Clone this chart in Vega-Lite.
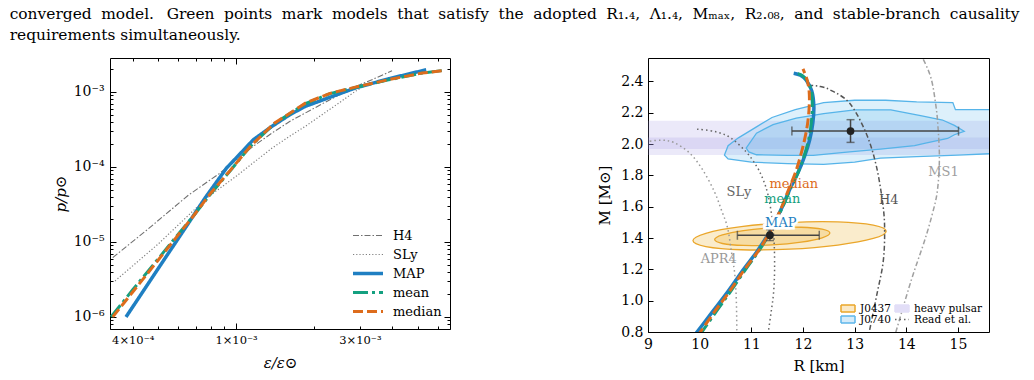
{
  "$schema": "https://vega.github.io/schema/vega-lite/v6.json",
  "background": "white",
  "padding": {"left": 9, "top": 6, "right": 5, "bottom": 2},
  "config": {
    "font": "DejaVu Serif",
    "view": {"stroke": "#000000", "strokeWidth": 1},
    "axis": {"domain": false, "grid": false, "labelFont": "DejaVu Serif", "titleFont": "DejaVu Serif", "labelColor": "#000000", "titleColor": "#000000", "tickColor": "#000000", "tickWidth": 1, "labelFlush": false, "labelOverlap": false, "titleFontWeight": "normal", "titleFontSize": 15, "labelFontSize": 14},
    "legend": {"labelFont": "DejaVu Serif", "labelColor": "#000000"}
  },
  "title": {
    "text": ["converged \u2009\u200amodel. \u2009\u2009\u200aGreen \u2009\u200apoints \u2009\u200amark \u2009\u200amodels \u2009\u200athat \u2009\u200asatisfy \u2009\u200athe \u2009\u200aadopted \u2009\u200aR₁.₄, \u2009\u200aΛ₁.₄, \u2009\u200aMₘₐₓ, \u2009\u200aR₂.₀₈, \u2009\u200aand \u2009\u200astable-branch \u2009\u200acausality", "requirements simultaneously."],
    "anchor": "start", "frame": "bounds", "font": "DejaVu Serif", "fontSize": 15.45, "fontWeight": "normal", "lineHeight": 21, "offset": 14, "dx": -43, "color": "#000000"
  },
  "spacing": 146,
  "resolve": {"scale": {"color": "independent", "strokeDash": "independent", "strokeWidth": "independent", "fill": "independent", "stroke": "independent", "shape": "independent", "x": "independent", "y": "independent"}},
  "hconcat": [
    {
      "width": 340,
      "height": 271,
      "data": {"values": [
        {"model": "H4", "e": 3.35e-4, "p": 6.18e-6},
        {"model": "H4", "e": 4.5e-4, "p": 1.41e-5},
        {"model": "H4", "e": 6.55e-4, "p": 4.2e-5},
        {"model": "H4", "e": 8.68e-4, "p": 8.3e-5},
        {"model": "H4", "e": 1.166e-3, "p": 1.89e-4},
        {"model": "H4", "e": 1.377e-3, "p": 2.84e-4},
        {"model": "H4", "e": 1.614e-3, "p": 4.07e-4},
        {"model": "H4", "e": 1.85e-3, "p": 5.25e-4},
        {"model": "H4", "e": 2.3e-3, "p": 7.9e-4},
        {"model": "H4", "e": 2.8e-3, "p": 1.13e-3},
        {"model": "H4", "e": 3.34e-3, "p": 1.46e-3},
        {"model": "H4", "e": 3.99e-3, "p": 1.92e-3},
        {"model": "SLy", "e": 3.42e-4, "p": 3.02e-6},
        {"model": "SLy", "e": 5.0e-4, "p": 9.3e-6},
        {"model": "SLy", "e": 7.71e-4, "p": 3.86e-5},
        {"model": "SLy", "e": 1.0e-3, "p": 7.5e-5},
        {"model": "SLy", "e": 1.377e-3, "p": 1.79e-4},
        {"model": "SLy", "e": 1.61e-3, "p": 2.57e-4},
        {"model": "SLy", "e": 1.85e-3, "p": 3.49e-4},
        {"model": "SLy", "e": 2.49e-3, "p": 7.13e-4},
        {"model": "SLy", "e": 2.88e-3, "p": 1.02e-3},
        {"model": "SLy", "e": 3.3e-3, "p": 1.35e-3},
        {"model": "MAP", "e": 3.77e-4, "p": 1.0e-6},
        {"model": "MAP", "e": 5.0e-4, "p": 4.35e-6},
        {"model": "MAP", "e": 6.5e-4, "p": 1.7e-5},
        {"model": "MAP", "e": 7.6e-4, "p": 3.86e-5},
        {"model": "MAP", "e": 9.2e-4, "p": 9.7e-5},
        {"model": "MAP", "e": 1.05e-3, "p": 1.57e-4},
        {"model": "MAP", "e": 1.166e-3, "p": 2.31e-4},
        {"model": "MAP", "e": 1.377e-3, "p": 3.49e-4},
        {"model": "MAP", "e": 1.61e-3, "p": 4.97e-4},
        {"model": "MAP", "e": 1.85e-3, "p": 6.44e-4},
        {"model": "MAP", "e": 2.3e-3, "p": 8.5e-4},
        {"model": "MAP", "e": 2.88e-3, "p": 1.13e-3},
        {"model": "MAP", "e": 3.87e-3, "p": 1.5e-3},
        {"model": "MAP", "e": 5.4e-3, "p": 1.98e-3},
        {"model": "mean", "e": 3.3e-4, "p": 1.0e-6},
        {"model": "mean", "e": 4.0e-4, "p": 2.3e-6},
        {"model": "mean", "e": 5.0e-4, "p": 5.9e-6},
        {"model": "mean", "e": 6.0e-4, "p": 1.28e-5},
        {"model": "mean", "e": 6.85e-4, "p": 2.22e-5},
        {"model": "mean", "e": 8.0e-4, "p": 4.4e-5},
        {"model": "mean", "e": 9.5e-4, "p": 8.9e-5},
        {"model": "mean", "e": 1.13e-3, "p": 1.85e-4},
        {"model": "mean", "e": 1.4e-3, "p": 3.75e-4},
        {"model": "mean", "e": 1.85e-3, "p": 7.0e-4},
        {"model": "mean", "e": 2.3e-3, "p": 9.5e-4},
        {"model": "mean", "e": 2.88e-3, "p": 1.15e-3},
        {"model": "mean", "e": 3.87e-3, "p": 1.45e-3},
        {"model": "mean", "e": 5.21e-3, "p": 1.79e-3},
        {"model": "mean", "e": 6.22e-3, "p": 1.93e-3},
        {"model": "median", "e": 3.35e-4, "p": 1.0e-6},
        {"model": "median", "e": 4.0e-4, "p": 2.15e-6},
        {"model": "median", "e": 5.0e-4, "p": 5.66e-6},
        {"model": "median", "e": 6.0e-4, "p": 1.25e-5},
        {"model": "median", "e": 6.85e-4, "p": 2.22e-5},
        {"model": "median", "e": 8.0e-4, "p": 4.5e-5},
        {"model": "median", "e": 9.5e-4, "p": 9.0e-5},
        {"model": "median", "e": 1.13e-3, "p": 1.85e-4},
        {"model": "median", "e": 1.4e-3, "p": 3.8e-4},
        {"model": "median", "e": 1.85e-3, "p": 7.1e-4},
        {"model": "median", "e": 2.3e-3, "p": 9.6e-4},
        {"model": "median", "e": 2.88e-3, "p": 1.16e-3},
        {"model": "median", "e": 3.87e-3, "p": 1.46e-3},
        {"model": "median", "e": 5.21e-3, "p": 1.79e-3},
        {"model": "median", "e": 6.22e-3, "p": 1.92e-3}
      ]},
      "layer": [
        {
          "mark": {"type": "line", "clip": true},
          "encoding": {
            "x": {"field": "e", "type": "quantitative", "scale": {"type": "log", "domain": [3.27e-4, 6.67e-3], "nice": false},
              "axis": {"orient": "bottom", "values": [0.001], "labelExpr": "'1×10⁻³'", "tickSize": -6, "labelPadding": 11, "labelFontSize": 11.5, "title": "ε/ε⊙", "titleFontStyle": "italic", "titlePadding": 10}},
            "y": {"field": "p", "type": "quantitative", "scale": {"type": "log", "domain": [6.9e-7, 2.84e-3], "nice": false},
              "axis": {"orient": "left", "values": [1e-6, 1e-5, 1e-4, 1e-3], "labelExpr": "datum.value < 5e-6 ? '10⁻⁶' : datum.value < 5e-5 ? '10⁻⁵' : datum.value < 5e-4 ? '10⁻⁴' : '10⁻³'", "tickSize": -6, "labelPadding": 12, "title": "p/p⊙", "titleFontStyle": "italic", "titlePadding": 5}},
            "color": {"field": "model", "type": "nominal", "scale": {"domain": ["H4", "SLy", "MAP", "mean", "median"], "range": ["#707070", "#808080", "#1f7fc2", "#14a080", "#dd6c1c"]},
              "legend": {"orient": "bottom-right", "title": null, "symbolType": "stroke", "symbolSize": 900, "labelFontSize": 13, "rowPadding": 0, "clipHeight": 19, "offset": 8, "padding": 0, "labelOffset": 8}},
            "strokeDash": {"field": "model", "type": "nominal", "scale": {"domain": ["H4", "SLy", "MAP", "mean", "median"], "range": [[6, 2, 1.5, 2], [1.2, 2], [1, 0], [15, 4, 3, 4], [10, 4]]},
              "legend": {"orient": "bottom-right", "title": null, "symbolType": "stroke", "symbolSize": 900, "labelFontSize": 13, "rowPadding": 0, "clipHeight": 19, "offset": 8, "padding": 0, "labelOffset": 8}},
            "strokeWidth": {"field": "model", "type": "nominal", "scale": {"type": "ordinal", "domain": ["H4", "SLy", "MAP", "mean", "median"], "range": [1.1, 1.2, 3.5, 3, 3]},
              "legend": {"orient": "bottom-right", "title": null, "symbolType": "stroke", "symbolSize": 900, "labelFontSize": 13, "rowPadding": 0, "clipHeight": 19, "offset": 8, "padding": 0, "labelOffset": 8}}
          }
        },
        {
          "mark": {"type": "line", "opacity": 0},
          "encoding": {
            "x": {"field": "e", "type": "quantitative", "scale": {"type": "log", "domain": [3.27e-4, 6.67e-3], "nice": false},
              "axis": {"orient": "bottom", "values": [4e-4, 5e-4, 6e-4, 7e-4, 8e-4, 9e-4, 2e-3, 3e-3, 4e-3, 5e-3, 6e-3], "labelExpr": "abs(datum.value - 0.0004) < 0.00001 ? '4×10⁻⁴' : abs(datum.value - 0.003) < 0.0001 ? '3×10⁻³' : ''", "tickSize": -3, "labelPadding": 8, "labelFontSize": 11.5, "title": null}},
            "y": {"field": "p", "type": "quantitative", "scale": {"type": "log", "domain": [6.9e-7, 2.84e-3], "nice": false},
              "axis": {"orient": "left", "values": [7e-7, 8e-7, 9e-7, 2e-6, 3e-6, 4e-6, 5e-6, 6e-6, 7e-6, 8e-6, 9e-6, 2e-5, 3e-5, 4e-5, 5e-5, 6e-5, 7e-5, 8e-5, 9e-5, 2e-4, 3e-4, 4e-4, 5e-4, 6e-4, 7e-4, 8e-4, 9e-4, 2e-3], "labels": false, "tickSize": -3, "title": null}}
          }
        },
        {
          "mark": {"type": "line", "opacity": 0},
          "encoding": {
            "x": {"field": "e", "type": "quantitative", "scale": {"type": "log", "domain": [3.27e-4, 6.67e-3], "nice": false},
              "axis": {"orient": "top", "values": [0.001], "labels": false, "tickSize": -6, "title": null}},
            "y": {"field": "p", "type": "quantitative", "scale": {"type": "log", "domain": [6.9e-7, 2.84e-3], "nice": false},
              "axis": {"orient": "right", "values": [1e-6, 1e-5, 1e-4, 1e-3], "labels": false, "tickSize": -6, "title": null}}
          }
        },
        {
          "mark": {"type": "line", "opacity": 0},
          "encoding": {
            "x": {"field": "e", "type": "quantitative", "scale": {"type": "log", "domain": [3.27e-4, 6.67e-3], "nice": false},
              "axis": {"orient": "top", "values": [4e-4, 5e-4, 6e-4, 7e-4, 8e-4, 9e-4, 2e-3, 3e-3, 4e-3, 5e-3, 6e-3], "labels": false, "tickSize": -3, "title": null}},
            "y": {"field": "p", "type": "quantitative", "scale": {"type": "log", "domain": [6.9e-7, 2.84e-3], "nice": false},
              "axis": {"orient": "right", "values": [7e-7, 8e-7, 9e-7, 2e-6, 3e-6, 4e-6, 5e-6, 6e-6, 7e-6, 8e-6, 9e-6, 2e-5, 3e-5, 4e-5, 5e-5, 6e-5, 7e-5, 8e-5, 9e-5, 2e-4, 3e-4, 4e-4, 5e-4, 6e-4, 7e-4, 8e-4, 9e-4, 2e-3], "labels": false, "tickSize": -3, "title": null}}
          }
        }
      ],
      "resolve": {"axis": {"x": "independent", "y": "independent"}}
    },
    {
      "width": 341,
      "height": 274,
      "layer": [
        {
          "data": {"values": [
            {"lo": 1.93, "hi": 2.15},
            {"lo": 1.968, "hi": 2.043}
          ]},
          "mark": {"type": "rect", "fill": "#9d8fe0", "fillOpacity": 0.2},
          "encoding": {
            "x": {"datum": 9, "type": "quantitative", "scale": {"domain": [9, 15.6], "nice": false, "zero": false},
              "axis": {"orient": "bottom", "values": [9, 10, 11, 12, 13, 14, 15], "format": "d", "tickSize": -5, "labelPadding": 10, "title": "R [km]", "titlePadding": 7}},
            "x2": {"datum": 15.6},
            "y": {"field": "lo", "type": "quantitative", "scale": {"domain": [0.8, 2.55], "nice": false, "zero": false},
              "axis": {"orient": "left", "values": [0.8, 1.0, 1.2, 1.4, 1.6, 1.8, 2.0, 2.2, 2.4], "format": ".1f", "tickSize": -5, "labelPadding": 10, "title": "M [M⊙]", "titlePadding": 8}},
            "y2": {"field": "hi"}
          }
        },
        {
          "mark": {"type": "rule", "color": "#9d8fe0", "strokeWidth": 1, "opacity": 0.6},
          "encoding": {"y": {"datum": 2.005, "type": "quantitative", "axis": null}}
        },
        {
          "data": {"values": [
            {"lev": "o", "i": 0, "R": 10.48, "M": 1.93},
            {"lev": "o", "i": 1, "R": 10.55, "M": 1.99},
            {"lev": "o", "i": 2, "R": 10.75, "M": 2.04},
            {"lev": "o", "i": 3, "R": 11.1, "M": 2.11},
            {"lev": "o", "i": 4, "R": 11.4, "M": 2.17},
            {"lev": "o", "i": 5, "R": 11.85, "M": 2.22},
            {"lev": "o", "i": 6, "R": 12.4, "M": 2.265},
            {"lev": "o", "i": 7, "R": 13.0, "M": 2.28},
            {"lev": "o", "i": 8, "R": 13.6, "M": 2.28},
            {"lev": "o", "i": 9, "R": 14.2, "M": 2.27},
            {"lev": "o", "i": 10, "R": 14.9, "M": 2.265},
            {"lev": "o", "i": 11, "R": 14.95, "M": 2.22},
            {"lev": "o", "i": 12, "R": 15.7, "M": 2.22},
            {"lev": "o", "i": 13, "R": 15.7, "M": 1.94},
            {"lev": "o", "i": 14, "R": 15.0, "M": 1.93},
            {"lev": "o", "i": 15, "R": 14.2, "M": 1.92},
            {"lev": "o", "i": 16, "R": 13.5, "M": 1.91},
            {"lev": "o", "i": 17, "R": 13.0, "M": 1.885},
            {"lev": "o", "i": 18, "R": 12.4, "M": 1.87},
            {"lev": "o", "i": 19, "R": 11.7, "M": 1.875},
            {"lev": "o", "i": 20, "R": 11.0, "M": 1.885},
            {"lev": "o", "i": 21, "R": 10.55, "M": 1.905},
            {"lev": "i", "i": 0, "R": 10.9, "M": 1.975},
            {"lev": "i", "i": 1, "R": 11.1, "M": 2.07},
            {"lev": "i", "i": 2, "R": 11.42, "M": 2.124},
            {"lev": "i", "i": 3, "R": 11.87, "M": 2.166},
            {"lev": "i", "i": 4, "R": 12.4, "M": 2.195},
            {"lev": "i", "i": 5, "R": 13.0, "M": 2.219},
            {"lev": "i", "i": 6, "R": 13.7, "M": 2.219},
            {"lev": "i", "i": 7, "R": 14.3, "M": 2.18},
            {"lev": "i", "i": 8, "R": 14.7, "M": 2.154},
            {"lev": "i", "i": 9, "R": 14.93, "M": 2.12},
            {"lev": "i", "i": 10, "R": 15.12, "M": 2.082},
            {"lev": "i", "i": 11, "R": 14.93, "M": 2.06},
            {"lev": "i", "i": 12, "R": 14.8, "M": 2.036},
            {"lev": "i", "i": 13, "R": 14.35, "M": 2.005},
            {"lev": "i", "i": 14, "R": 14.16, "M": 1.99},
            {"lev": "i", "i": 15, "R": 13.5, "M": 1.968},
            {"lev": "i", "i": 16, "R": 12.9, "M": 1.95},
            {"lev": "i", "i": 17, "R": 12.2, "M": 1.928},
            {"lev": "i", "i": 18, "R": 11.7, "M": 1.928},
            {"lev": "i", "i": 19, "R": 11.1, "M": 1.932},
            {"lev": "i", "i": 20, "R": 10.95, "M": 1.95}
          ]},
          "mark": {"type": "line", "interpolate": "linear-closed", "stroke": "#56b4e9", "fill": "#56b4e9", "strokeWidth": 1.3, "fillOpacity": 0.2, "clip": true},
          "encoding": {
            "x": {"field": "R", "type": "quantitative", "axis": null},
            "y": {"field": "M", "type": "quantitative", "axis": null},
            "detail": {"field": "lev"},
            "order": {"field": "i", "type": "quantitative"}
          }
        },
        {
          "data": {"values": [
            {"lev": "o", "i": 0, "R": 13.61, "M": 1.444},
            {"lev": "o", "i": 1, "R": 13.36, "M": 1.482},
            {"lev": "o", "i": 2, "R": 12.675, "M": 1.503},
            {"lev": "o", "i": 3, "R": 11.74, "M": 1.499},
            {"lev": "o", "i": 4, "R": 10.805, "M": 1.4726},
            {"lev": "o", "i": 5, "R": 10.12, "M": 1.4306},
            {"lev": "o", "i": 6, "R": 9.87, "M": 1.384},
            {"lev": "o", "i": 7, "R": 10.12, "M": 1.3456},
            {"lev": "o", "i": 8, "R": 10.805, "M": 1.3254},
            {"lev": "o", "i": 9, "R": 11.74, "M": 1.329},
            {"lev": "o", "i": 10, "R": 12.675, "M": 1.3554},
            {"lev": "o", "i": 11, "R": 13.36, "M": 1.3974},
            {"lev": "i", "i": 0, "R": 12.52, "M": 1.432},
            {"lev": "i", "i": 1, "R": 12.37, "M": 1.4567},
            {"lev": "i", "i": 2, "R": 11.9625, "M": 1.4691},
            {"lev": "i", "i": 3, "R": 11.405, "M": 1.466},
            {"lev": "i", "i": 4, "R": 10.8475, "M": 1.4481},
            {"lev": "i", "i": 5, "R": 10.44, "M": 1.4203},
            {"lev": "i", "i": 6, "R": 10.29, "M": 1.39},
            {"lev": "i", "i": 7, "R": 10.44, "M": 1.3653},
            {"lev": "i", "i": 8, "R": 10.8475, "M": 1.3529},
            {"lev": "i", "i": 9, "R": 11.405, "M": 1.356},
            {"lev": "i", "i": 10, "R": 11.9625, "M": 1.3739},
            {"lev": "i", "i": 11, "R": 12.37, "M": 1.4017}
          ]},
          "mark": {"type": "line", "interpolate": "cardinal-closed", "stroke": "#eaa62a", "fill": "#e69f00", "strokeWidth": 1.3, "fillOpacity": 0.2, "clip": true},
          "encoding": {
            "x": {"field": "R", "type": "quantitative", "axis": null},
            "y": {"field": "M", "type": "quantitative", "axis": null},
            "detail": {"field": "lev"},
            "order": {"field": "i", "type": "quantitative"}
          }
        },
        {
          "mark": {"type": "rule", "color": "#555555", "strokeWidth": 1.5, "strokeDash": [6, 3]},
          "encoding": {"y": {"datum": 2.083, "type": "quantitative", "axis": null}}
        },
        {
          "data": {"values": [
            {"model": "SLy", "i": 0, "R": 9.95, "M": 2.095},
            {"model": "SLy", "i": 1, "R": 10.3, "M": 2.08},
            {"model": "SLy", "i": 2, "R": 10.6, "M": 2.04},
            {"model": "SLy", "i": 3, "R": 10.9, "M": 1.95},
            {"model": "SLy", "i": 4, "R": 11.1, "M": 1.86},
            {"model": "SLy", "i": 5, "R": 11.22, "M": 1.78},
            {"model": "SLy", "i": 6, "R": 11.32, "M": 1.68},
            {"model": "SLy", "i": 7, "R": 11.4, "M": 1.53},
            {"model": "SLy", "i": 8, "R": 11.44, "M": 1.38},
            {"model": "SLy", "i": 9, "R": 11.45, "M": 1.2},
            {"model": "SLy", "i": 10, "R": 11.43, "M": 1.05},
            {"model": "SLy", "i": 11, "R": 11.38, "M": 0.92},
            {"model": "SLy", "i": 12, "R": 11.32, "M": 0.78},
            {"model": "APR4", "i": 0, "R": 8.95, "M": 2.015},
            {"model": "APR4", "i": 1, "R": 9.25, "M": 2.025},
            {"model": "APR4", "i": 2, "R": 9.5, "M": 2.01},
            {"model": "APR4", "i": 3, "R": 9.8, "M": 1.945},
            {"model": "APR4", "i": 4, "R": 10.05, "M": 1.84},
            {"model": "APR4", "i": 5, "R": 10.28, "M": 1.7},
            {"model": "APR4", "i": 6, "R": 10.42, "M": 1.58},
            {"model": "APR4", "i": 7, "R": 10.54, "M": 1.465},
            {"model": "APR4", "i": 8, "R": 10.62, "M": 1.3},
            {"model": "APR4", "i": 9, "R": 10.68, "M": 1.168},
            {"model": "APR4", "i": 10, "R": 10.71, "M": 1.0},
            {"model": "APR4", "i": 11, "R": 10.72, "M": 0.78},
            {"model": "H4", "i": 0, "R": 12.1, "M": 2.375},
            {"model": "H4", "i": 1, "R": 12.3, "M": 2.37},
            {"model": "H4", "i": 2, "R": 12.52, "M": 2.347},
            {"model": "H4", "i": 3, "R": 12.9, "M": 2.262},
            {"model": "H4", "i": 4, "R": 13.22, "M": 2.071},
            {"model": "H4", "i": 5, "R": 13.42, "M": 1.859},
            {"model": "H4", "i": 6, "R": 13.55, "M": 1.604},
            {"model": "H4", "i": 7, "R": 13.58, "M": 1.434},
            {"model": "H4", "i": 8, "R": 13.55, "M": 1.243},
            {"model": "H4", "i": 9, "R": 13.43, "M": 1.04},
            {"model": "H4", "i": 10, "R": 13.27, "M": 0.78},
            {"model": "MS1", "i": 0, "R": 14.2, "M": 2.6},
            {"model": "MS1", "i": 1, "R": 14.32, "M": 2.546},
            {"model": "MS1", "i": 2, "R": 14.48, "M": 2.419},
            {"model": "MS1", "i": 3, "R": 14.57, "M": 2.25},
            {"model": "MS1", "i": 4, "R": 14.61, "M": 2.121},
            {"model": "MS1", "i": 5, "R": 14.64, "M": 1.909},
            {"model": "MS1", "i": 6, "R": 14.6, "M": 1.7},
            {"model": "MS1", "i": 7, "R": 14.5, "M": 1.55},
            {"model": "MS1", "i": 8, "R": 14.35, "M": 1.38},
            {"model": "MS1", "i": 9, "R": 14.09, "M": 1.125},
            {"model": "MS1", "i": 10, "R": 13.78, "M": 0.78},
            {"model": "MAP", "i": 0, "R": 9.88, "M": 0.77},
            {"model": "MAP", "i": 1, "R": 10.25, "M": 0.93},
            {"model": "MAP", "i": 2, "R": 10.55, "M": 1.06},
            {"model": "MAP", "i": 3, "R": 10.85, "M": 1.2},
            {"model": "MAP", "i": 4, "R": 11.1, "M": 1.31},
            {"model": "MAP", "i": 5, "R": 11.3, "M": 1.41},
            {"model": "MAP", "i": 6, "R": 11.45, "M": 1.5},
            {"model": "MAP", "i": 7, "R": 11.6, "M": 1.6},
            {"model": "MAP", "i": 8, "R": 11.74, "M": 1.709},
            {"model": "MAP", "i": 9, "R": 11.9, "M": 1.815},
            {"model": "MAP", "i": 10, "R": 12.03, "M": 1.922},
            {"model": "MAP", "i": 11, "R": 12.13, "M": 2.028},
            {"model": "MAP", "i": 12, "R": 12.19, "M": 2.134},
            {"model": "MAP", "i": 13, "R": 12.21, "M": 2.24},
            {"model": "MAP", "i": 14, "R": 12.17, "M": 2.34},
            {"model": "MAP", "i": 15, "R": 12.06, "M": 2.41},
            {"model": "MAP", "i": 16, "R": 11.95, "M": 2.44},
            {"model": "MAP", "i": 17, "R": 11.82, "M": 2.453},
            {"model": "mean", "i": 0, "R": 9.98, "M": 0.77},
            {"model": "mean", "i": 1, "R": 10.32, "M": 0.93},
            {"model": "mean", "i": 2, "R": 10.6, "M": 1.06},
            {"model": "mean", "i": 3, "R": 10.89, "M": 1.2},
            {"model": "mean", "i": 4, "R": 11.13, "M": 1.31},
            {"model": "mean", "i": 5, "R": 11.32, "M": 1.41},
            {"model": "mean", "i": 6, "R": 11.46, "M": 1.5},
            {"model": "mean", "i": 7, "R": 11.61, "M": 1.6},
            {"model": "mean", "i": 8, "R": 11.75, "M": 1.709},
            {"model": "mean", "i": 9, "R": 11.9, "M": 1.815},
            {"model": "mean", "i": 10, "R": 12.02, "M": 1.922},
            {"model": "mean", "i": 11, "R": 12.11, "M": 2.028},
            {"model": "mean", "i": 12, "R": 12.16, "M": 2.134},
            {"model": "mean", "i": 13, "R": 12.18, "M": 2.24},
            {"model": "mean", "i": 14, "R": 12.16, "M": 2.34},
            {"model": "mean", "i": 15, "R": 12.07, "M": 2.41},
            {"model": "mean", "i": 16, "R": 11.98, "M": 2.44},
            {"model": "mean", "i": 17, "R": 11.9, "M": 2.45},
            {"model": "median", "i": 0, "R": 9.95, "M": 0.77},
            {"model": "median", "i": 1, "R": 10.29, "M": 0.93},
            {"model": "median", "i": 2, "R": 10.58, "M": 1.06},
            {"model": "median", "i": 3, "R": 10.87, "M": 1.2},
            {"model": "median", "i": 4, "R": 11.12, "M": 1.31},
            {"model": "median", "i": 5, "R": 11.31, "M": 1.41},
            {"model": "median", "i": 6, "R": 11.45, "M": 1.5},
            {"model": "median", "i": 7, "R": 11.59, "M": 1.6},
            {"model": "median", "i": 8, "R": 11.72, "M": 1.709},
            {"model": "median", "i": 9, "R": 11.85, "M": 1.815},
            {"model": "median", "i": 10, "R": 11.95, "M": 1.922},
            {"model": "median", "i": 11, "R": 12.03, "M": 2.028},
            {"model": "median", "i": 12, "R": 12.09, "M": 2.134},
            {"model": "median", "i": 13, "R": 12.12, "M": 2.24},
            {"model": "median", "i": 14, "R": 12.12, "M": 2.33},
            {"model": "median", "i": 15, "R": 12.08, "M": 2.41},
            {"model": "median", "i": 16, "R": 12.0, "M": 2.48}
          ]},
          "encoding": {
            "x": {"field": "R", "type": "quantitative", "axis": null},
            "y": {"field": "M", "type": "quantitative", "axis": null},
            "order": {"field": "i", "type": "quantitative"},
            "color": {"field": "model", "type": "nominal", "legend": null, "scale": {"domain": ["MAP", "mean", "median", "SLy", "APR4", "H4", "MS1"], "range": ["#1f7fc2", "#14a080", "#dd6c1c", "#666666", "#999999", "#555555", "#a0a0a0"]}}
          },
          "layer": [
            {"transform": [{"filter": "datum.model === 'SLy' || datum.model === 'APR4'"}], "mark": {"type": "line", "interpolate": "cardinal", "clip": true, "strokeWidth": 1.5, "strokeDash": [1.5, 3]}},
            {"transform": [{"filter": "datum.model === 'H4' || datum.model === 'MS1'"}], "mark": {"type": "line", "interpolate": "cardinal", "clip": true, "strokeWidth": 1.5, "strokeDash": [5, 2.5, 1.5, 2.5]}},
            {"transform": [{"filter": "datum.model === 'MAP'"}], "mark": {"type": "line", "interpolate": "cardinal", "clip": true, "strokeWidth": 3.5}},
            {"transform": [{"filter": "datum.model === 'mean'"}], "mark": {"type": "line", "interpolate": "cardinal", "clip": true, "strokeWidth": 3, "strokeDash": [15, 4, 3, 4]}},
            {"transform": [{"filter": "datum.model === 'median'"}], "mark": {"type": "line", "interpolate": "cardinal", "clip": true, "strokeWidth": 3, "strokeDash": [10, 4]}}
          ]
        },
        {
          "data": {"values": [
            {"R": 12.92, "M": 2.083, "rlo": 11.785, "rhi": 15.01, "mlo": 2.011, "mhi": 2.156},
            {"R": 11.36, "M": 1.418, "rlo": 10.73, "rhi": 12.315, "mlo": 1.384, "mhi": 1.454}
          ]},
          "layer": [
            {"mark": {"type": "rule", "color": "#444444", "strokeWidth": 1.5}, "encoding": {"x": {"field": "rlo", "type": "quantitative", "axis": null}, "x2": {"field": "rhi"}, "y": {"field": "M", "type": "quantitative", "axis": null}}},
            {"mark": {"type": "rule", "color": "#444444", "strokeWidth": 1.5}, "encoding": {"x": {"field": "R", "type": "quantitative", "axis": null}, "y": {"field": "mlo", "type": "quantitative", "axis": null}, "y2": {"field": "mhi"}}},
            {"mark": {"type": "tick", "color": "#444444", "orient": "vertical", "size": 9, "thickness": 1.5}, "encoding": {"x": {"field": "rlo", "type": "quantitative", "axis": null}, "y": {"field": "M", "type": "quantitative", "axis": null}}},
            {"mark": {"type": "tick", "color": "#444444", "orient": "vertical", "size": 9, "thickness": 1.5}, "encoding": {"x": {"field": "rhi", "type": "quantitative", "axis": null}, "y": {"field": "M", "type": "quantitative", "axis": null}}},
            {"mark": {"type": "tick", "color": "#444444", "orient": "horizontal", "size": 8, "thickness": 1.5}, "encoding": {"x": {"field": "R", "type": "quantitative", "axis": null}, "y": {"field": "mlo", "type": "quantitative", "axis": null}}},
            {"mark": {"type": "tick", "color": "#444444", "orient": "horizontal", "size": 8, "thickness": 1.5}, "encoding": {"x": {"field": "R", "type": "quantitative", "axis": null}, "y": {"field": "mhi", "type": "quantitative", "axis": null}}},
            {"mark": {"type": "point", "filled": true, "color": "#222222", "size": 60, "opacity": 1}, "encoding": {"x": {"field": "R", "type": "quantitative", "axis": null}, "y": {"field": "M", "type": "quantitative", "axis": null}}},
            {"mark": {"type": "point", "opacity": 0}, "encoding": {
              "x": {"field": "R", "type": "quantitative", "axis": {"orient": "top", "values": [9, 10, 11, 12, 13, 14, 15], "labels": false, "tickSize": -5, "title": null}},
              "y": {"field": "M", "type": "quantitative", "axis": {"orient": "right", "values": [0.8, 1.0, 1.2, 1.4, 1.6, 1.8, 2.0, 2.2, 2.4], "labels": false, "tickSize": -5, "title": null}}}}
          ]
        },
        {
          "data": {"values": [
            {"model": "median", "lab": "median", "R": 11.82, "M": 1.748},
            {"model": "mean", "lab": "mean", "R": 11.6, "M": 1.652},
            {"model": "MAP", "lab": "MAP", "R": 11.57, "M": 1.497},
            {"model": "SLy", "lab": "SLy", "R": 10.76, "M": 1.692},
            {"model": "APR4", "lab": "APR4", "R": 10.37, "M": 1.267},
            {"model": "H4", "lab": "H4", "R": 13.66, "M": 1.641},
            {"model": "MS1", "lab": "MS1", "R": 14.72, "M": 1.824}
          ]},
          "layer": [
            {"transform": [{"filter": "datum.model === 'MAP'"}],
             "mark": {"type": "text", "font": "DejaVu Serif", "fontSize": 13, "stroke": "white", "strokeWidth": 5, "fill": "white", "align": "center", "baseline": "middle"},
             "encoding": {"x": {"field": "R", "type": "quantitative", "axis": null}, "y": {"field": "M", "type": "quantitative", "axis": null}, "text": {"field": "lab"}}},
            {"mark": {"type": "text", "font": "DejaVu Serif", "fontSize": 13, "align": "center", "baseline": "middle"},
             "encoding": {"x": {"field": "R", "type": "quantitative", "axis": null}, "y": {"field": "M", "type": "quantitative", "axis": null}, "text": {"field": "lab"},
               "color": {"field": "model", "type": "nominal", "legend": null}}}
          ]
        },
        {
          "data": {"values": [
            {"src": "J0437"}, {"src": "J0740"}, {"src": "heavy pulsar"}, {"src": "Read et al."}
          ]},
          "transform": [{"filter": "false"}],
          "mark": {"type": "point", "filled": true, "size": 196, "strokeWidth": 1.5},
          "encoding": {
            "fill": {"field": "src", "type": "nominal", "scale": {"domain": ["J0437", "J0740", "heavy pulsar", "Read et al."], "range": ["#fbe9c6", "#d5ebf9", "#e2def7", "transparent"]},
              "legend": {"orient": "bottom-right", "title": null, "columns": 2, "columnPadding": 3, "rowPadding": 0, "clipHeight": 11, "offset": 7, "padding": 0, "labelFontSize": 10.5, "labelOffset": 4, "symbolSize": 196, "symbolStrokeWidth": 1.5, "symbolOpacity": 1}},
            "stroke": {"field": "src", "type": "nominal", "scale": {"domain": ["J0437", "J0740", "heavy pulsar", "Read et al."], "range": ["#eaa62a", "#5db6ea", "#e2def7", "#666666"]},
              "legend": {"orient": "bottom-right", "title": null, "columns": 2, "columnPadding": 3, "rowPadding": 0, "clipHeight": 11, "offset": 7, "padding": 0, "labelFontSize": 10.5, "labelOffset": 4, "symbolSize": 196, "symbolStrokeWidth": 1.5, "symbolOpacity": 1}},
            "shape": {"field": "src", "type": "nominal", "scale": {"domain": ["J0437", "J0740", "heavy pulsar", "Read et al."], "range": ["M-1,-0.5H1V0.5H-1Z", "M-1,-0.5H1V0.5H-1Z", "M-1,-0.5H1V0.5H-1Z", "stroke"]},
              "legend": {"orient": "bottom-right", "title": null, "columns": 2, "columnPadding": 3, "rowPadding": 0, "clipHeight": 11, "offset": 7, "padding": 0, "labelFontSize": 10.5, "labelOffset": 4, "symbolSize": 196, "symbolStrokeWidth": 1.5, "symbolOpacity": 1}},
            "strokeDash": {"field": "src", "type": "nominal", "scale": {"domain": ["J0437", "J0740", "heavy pulsar", "Read et al."], "range": [[1, 0], [1, 0], [1, 0], [1.5, 3]]},
              "legend": {"orient": "bottom-right", "title": null, "columns": 2, "columnPadding": 3, "rowPadding": 0, "clipHeight": 11, "offset": 7, "padding": 0, "labelFontSize": 10.5, "labelOffset": 4, "symbolSize": 196, "symbolStrokeWidth": 1.5, "symbolOpacity": 1}}
          }
        }
      ],
      "resolve": {"axis": {"x": "independent", "y": "independent"}}
    }
  ]
}
